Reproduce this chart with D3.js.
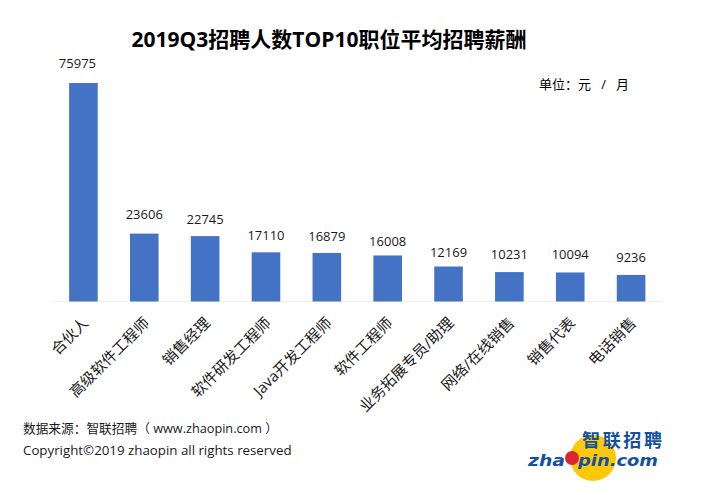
<!DOCTYPE html>
<html>
<head>
<meta charset="utf-8">
<script src="https://cdn.jsdelivr.net/npm/d3@7"></script>
<style>
html, body { margin: 0; padding: 0; background: #fff; }
svg { display: block; }
text { font-family: "Open Sans", "Noto Sans CJK SC", sans-serif; fill: #1a1a1a; }
</style>
</head>
<body>
<div id="plot"></div>
<script>
'use strict';

const positions = ['合伙人', '高级软件工程师', '销售经理', '软件研发工程师', 'Java开发工程师',
    '软件工程师', '业务拓展专员/助理', '网络/在线销售', '销售代表', '电话销售'];
const salaries = [75975, 23606, 22745, 17110, 16879, 16008, 12169, 10231, 10094, 9236];
const sourceLines = ['数据来源：智联招聘（ www.zhaopin.com ）', 'Copyright©2019 zhaopin all rights reserved'];

// the labels were placed by hand in the original, gap above each bar differs
const labelGaps = [15, 15, 12, 12, 12, 9, 10, 13, 13, 13];

const svg = d3.select('#plot').append('svg').attr('width', 714).attr('height', 495);

const xScale = d3.scaleBand().domain(positions).range([53, 661.5]).paddingInner(0.53).paddingOuter(0.265);
const yScale = d3.scaleLinear().domain([0, 75975]).range([301.5, 83]);

svg.append('text')
    .attr('x', 329).attr('y', 47)
    .attr('text-anchor', 'middle')
    .style('font-size', '21px').style('font-weight', 700).style('fill', '#000')
    .text('2019Q3招聘人数TOP10职位平均招聘薪酬');

svg.append('text')
    .attr('x', 539).attr('y', 89)
    .style('font-size', '13px').style('fill', '#000')
    .text('单位：元\u00a0\u00a0\u00a0/\u00a0\u00a0\u00a0月');

// baseline, no ticks
svg.append('line')
    .attr('x1', 53).attr('x2', 661.5)
    .attr('y1', 301.5).attr('y2', 301.5)
    .attr('stroke', '#eeeeee').attr('stroke-width', 1);

svg.selectAll('.bar')
    .data(salaries).enter().append('rect')
    .attr('class', 'bar')
    .attr('x', (d, i) => xScale(positions[i]))
    .attr('y', d => yScale(d))
    .attr('width', xScale.bandwidth())
    .attr('height', d => yScale(0) - yScale(d))
    .attr('fill', '#4472c4');

svg.selectAll('.value')
    .data(salaries).enter().append('text')
    .attr('class', 'value')
    .attr('x', (d, i) => xScale(positions[i]) + xScale.bandwidth() / 2 - (i === 0 ? 6 : 0))
    .attr('y', (d, i) => yScale(d) - labelGaps[i])
    .attr('text-anchor', 'middle')
    .style('font-size', '13px')
    .text(d => d);

svg.selectAll('.pos')
    .data(positions).enter().append('text')
    .attr('class', 'pos')
    .attr('text-anchor', 'end')
    .attr('transform', d => `translate(${xScale(d) + xScale.bandwidth() / 2 + 6}, 324) rotate(-45)`)
    .style('font-size', '15px')
    .text(d => d);

svg.selectAll('.source')
    .data(sourceLines).enter().append('text')
    .attr('class', 'source')
    .attr('x', 23)
    .attr('y', (d, i) => 433 + i * 22)
    .style('font-size', (d, i) => i === 0 ? '12.7px' : '13.3px')
    .text(d => d);

// logo
const logo = svg.append('g').attr('class', 'logo');
logo.append('circle').attr('cx', 593).attr('cy', 458).attr('r', 23).attr('fill', '#fcc80a');
logo.append('text')
    .attr('x', 582).attr('y', 447)
    .attr('textLength', 80)
    .style('font-family', '"Noto Sans CJK SC", sans-serif')
    .style('font-size', '18px').style('font-weight', 700).style('fill', '#1550a0')
    .text('智联招聘');
const logoWord = (txt, x, len) => logo.append('text')
    .attr('x', x).attr('y', 466)
    .attr('textLength', len).attr('lengthAdjust', 'spacingAndGlyphs')
    .style('font-family', '"DejaVu Sans", sans-serif')
    .style('font-size', '16px').style('font-weight', 700).style('font-style', 'italic').style('fill', '#1550a0')
    .text(txt);
logoWord('zha', 528, 37);
logo.append('circle').attr('cx', 572).attr('cy', 458).attr('r', 7).attr('fill', '#d8262c');
logoWord('pin.com', 578, 80);
</script>
</body>
</html>
